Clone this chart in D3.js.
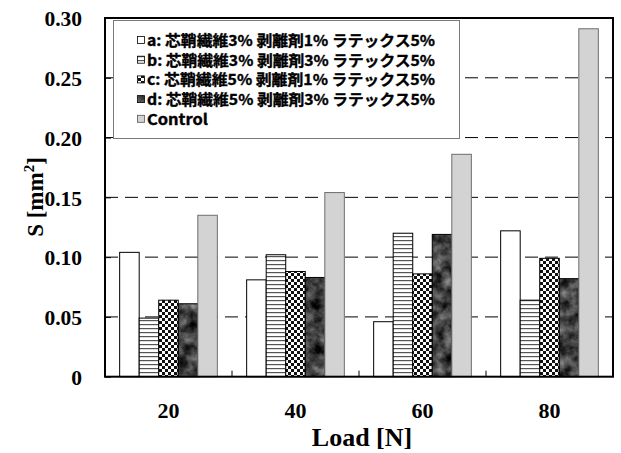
<!DOCTYPE html>
<html><head><meta charset="utf-8">
<script src="https://cdn.jsdelivr.net/npm/d3@7"></script>
<style>body{margin:0;background:#fff}svg{display:block}</style>
</head><body>
<svg id="c" width="621" height="453"></svg>
<script>
const categories = ["20", "40", "60", "80"];
const seriesKeys = ["a", "b", "c", "d", "control"];
const seriesLabels = [
  "a: 芯鞘繊維3% 剥離剤1% ラテックス5%",
  "b: 芯鞘繊維3% 剥離剤3% ラテックス5%",
  "c: 芯鞘繊維5% 剥離剤1% ラテックス5%",
  "d: 芯鞘繊維5% 剥離剤3% ラテックス5%",
  "Control"
];
const valuesA = [0.104, 0.081, 0.046, 0.122];
const valuesB = [0.049, 0.102, 0.120, 0.064];
const valuesC = [0.064, 0.088, 0.086, 0.099];
const valuesD = [0.061, 0.083, 0.119, 0.082];
const valuesControl = [0.135, 0.154, 0.186, 0.291];
const yTicks = [0, 0.05, 0.10, 0.15, 0.20, 0.25, 0.30];
const yTickLabels = ["0", "0.05", "0.10", "0.15", "0.20", "0.25", "0.30"];
const xTitle = "Load [N]";

const seriesValues = [valuesA, valuesB, valuesC, valuesD, valuesControl];
const table = [];
categories.forEach((cat, i) => seriesKeys.forEach((k, j) => table.push({cat, key: k, v: seriesValues[j][i]})));

const svg = d3.select("#c");
const L = 105, R = 613, T = 18, B = 376.7;

const defs = svg.append("defs");
const pb = defs.append("pattern").attr("id", "hlines").attr("patternUnits", "userSpaceOnUse").attr("width", 4).attr("height", 4);
pb.append("rect").attr("width", 4).attr("height", 4).attr("fill", "#fff");
pb.append("rect").attr("y", 0).attr("width", 4).attr("height", 1.2).attr("fill", "#555");
const pc = defs.append("pattern").attr("id", "checker").attr("patternUnits", "userSpaceOnUse").attr("width", 6).attr("height", 6);
pc.append("rect").attr("width", 6).attr("height", 6).attr("fill", "#fff");
pc.append("rect").attr("width", 3).attr("height", 3).attr("fill", "#111");
pc.append("rect").attr("x", 3).attr("y", 3).attr("width", 3).attr("height", 3).attr("fill", "#111");
const f = defs.append("filter").attr("id", "marble").attr("x", 0).attr("y", 0).attr("width", 1).attr("height", 1)
  .attr("color-interpolation-filters", "sRGB");
f.append("feTurbulence").attr("type", "fractalNoise").attr("baseFrequency", 0.09).attr("numOctaves", 4).attr("seed", 5).attr("result", "t");
f.append("feColorMatrix").attr("in", "t").attr("type", "matrix")
  .attr("values", "0.75 0 0 0 -0.12  0.75 0 0 0 -0.12  0.75 0 0 0 -0.12  0 0 0 0 1").attr("result", "g");
f.append("feComposite").attr("in", "g").attr("in2", "SourceGraphic").attr("operator", "in");

const fills = {a: "#fff", b: "url(#hlines)", c: "url(#checker)", d: "#3a3a3a", control: "#d3d3d3"};
const strokes = {a: "#000", b: "#000", c: "#000", d: "#000", control: "#6e6e6e"};

const x0 = d3.scaleBand().domain(categories).range([L, R]).padding(0);
const x1 = d3.scaleBand().domain(seriesKeys).range([0, x0.bandwidth()]).paddingInner(0).paddingOuter(0.75);
const y = d3.scaleLinear().domain([0, 0.30]).range([B, T]);

// gridlines
svg.append("g").selectAll("line").data(yTicks.filter(t => t > 0 && t < 0.30)).join("line")
  .attr("x1", L).attr("x2", R).attr("y1", d => y(d)).attr("y2", d => y(d))
  .attr("stroke", "#000").attr("stroke-width", 1).attr("stroke-dasharray", "13,7");

// bars
const bars = svg.append("g");
table.forEach(d => {
  const bx = x0(d.cat) + x1(d.key), bw = x1.bandwidth(), by = y(d.v), bh = B - y(d.v);
  const r = bars.append("rect").attr("x", bx).attr("y", by).attr("width", bw).attr("height", bh)
    .attr("fill", fills[d.key]);
  if (d.key === "d") r.attr("filter", "url(#marble)");
  bars.append("rect").attr("x", bx).attr("y", by).attr("width", bw).attr("height", bh)
    .attr("fill", "none").attr("stroke", strokes[d.key]).attr("stroke-width", 1);
});

// y ticks (inward) and labels
const yAxis = d3.axisLeft(y).tickValues(yTicks).tickSizeInner(-6).tickSizeOuter(0).tickFormat((d, i) => yTickLabels[i]);
const ga = svg.append("g").attr("transform", `translate(${L},0)`).call(yAxis);
ga.select(".domain").remove();
ga.selectAll(".tick line").attr("stroke", "#000");
ga.selectAll(".tick text").attr("x", -23).attr("dy", "0.36em")
  .attr("font-family", "Liberation Serif").attr("font-weight", "bold").attr("font-size", 21.5).attr("fill", "#000")
  .attr("text-anchor", "end");

// x ticks at group boundaries
const bounds = categories.slice(1).map(c => x0(c));
svg.append("g").selectAll("line").data(bounds).join("line")
  .attr("x1", d => d).attr("x2", d => d).attr("y1", B).attr("y2", B - 6).attr("stroke", "#000");
const gx = svg.append("g").attr("transform", `translate(0,${B})`).call(d3.axisBottom(x0).tickSize(0));
gx.select(".domain").remove();
gx.selectAll(".tick text").attr("y", 41).attr("dy", 0)
  .attr("font-family", "Liberation Serif").attr("font-weight", "bold").attr("font-size", 22).attr("fill", "#000");

// frame
svg.append("rect").attr("x", L).attr("y", T).attr("width", R - L).attr("height", B - T)
  .attr("fill", "none").attr("stroke", "#000").attr("stroke-width", 2);

// axis titles
svg.append("text").attr("x", 362).attr("y", 446).attr("text-anchor", "middle")
  .attr("font-family", "Liberation Serif").attr("font-weight", "bold").attr("font-size", 26).text(xTitle);
const yt = svg.append("text").attr("transform", "translate(43,197) rotate(-90)").attr("text-anchor", "middle")
  .attr("font-family", "Liberation Serif").attr("font-weight", "bold").attr("font-size", 23);
yt.append("tspan").text("S [mm");
yt.append("tspan").attr("font-size", 15).attr("dy", -9).text("2");
yt.append("tspan").attr("dy", 9).text("]");

// legend
const lg = svg.append("g");
lg.append("rect").attr("x", 113.5).attr("y", 20.5).attr("width", 346).attr("height", 118)
  .attr("fill", "#fff").attr("stroke", "#7a7a7a").attr("stroke-width", 1);
seriesKeys.forEach((k, i) => {
  const cy = 40 + i * 19.7;
  const s = lg.append("rect").attr("x", 137.5).attr("y", cy - 3.5).attr("width", 7).attr("height", 7).attr("fill", fills[k]);
  if (k === "d") s.attr("filter", "url(#marble)");
  lg.append("rect").attr("x", 137.5).attr("y", cy - 3.5).attr("width", 7).attr("height", 7)
    .attr("fill", "none").attr("stroke", k === "control" ? "#555" : "#000").attr("stroke-width", 0.8);
  lg.append("text").attr("x", 147).attr("y", cy + 6)
    .attr("font-family", "Noto Sans CJK JP").attr("font-weight", "bold").attr("font-size", 15)
    .attr("stroke", "#000").attr("stroke-width", 0.35)
    .attr("textLength", k === "control" ? 61 : 288).attr("lengthAdjust", "spacingAndGlyphs")
    .text(seriesLabels[i]);
});
</script>
</body></html>
